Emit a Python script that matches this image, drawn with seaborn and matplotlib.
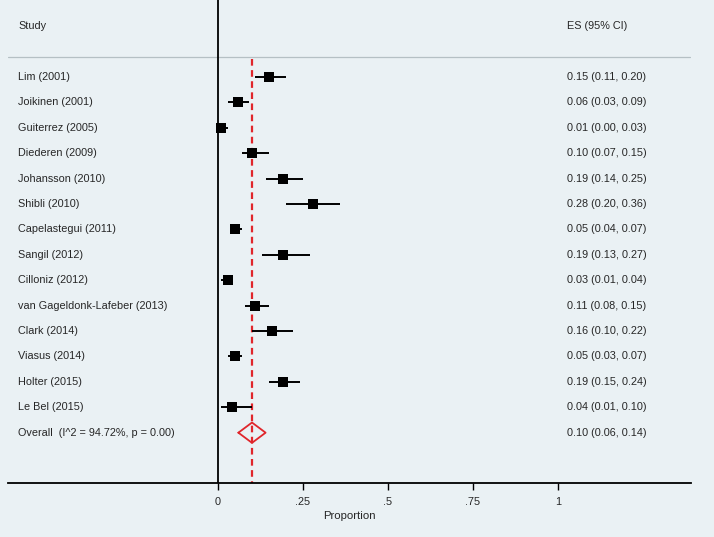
import matplotlib
matplotlib.use("Agg")
import matplotlib.pyplot as plt
import seaborn as sns
import pandas as pd
import numpy as np

studies = ["Lim (2001)", "Joikinen (2001)", "Guiterrez (2005)", "Diederen (2009)",
           "Johansson (2010)", "Shibli (2010)", "Capelastegui (2011)", "Sangil (2012)",
           "Cilloniz (2012)", "van Gageldonk-Lafeber (2013)", "Clark (2014)",
           "Viasus (2014)", "Holter (2015)", "Le Bel (2015)"]
es = [0.15, 0.06, 0.01, 0.10, 0.19, 0.28, 0.05, 0.19, 0.03, 0.11, 0.16, 0.05, 0.19, 0.04]
lo = [0.11, 0.03, 0.00, 0.07, 0.14, 0.20, 0.04, 0.13, 0.01, 0.08, 0.10, 0.03, 0.15, 0.01]
hi = [0.20, 0.09, 0.03, 0.15, 0.25, 0.36, 0.07, 0.27, 0.04, 0.15, 0.22, 0.07, 0.24, 0.10]
overall_label = "Overall  (I^2 = 94.72%, p = 0.00)"
overall_es, overall_lo, overall_hi = 0.10, 0.06, 0.14
xticks = [0, 0.25, 0.5, 0.75, 1]
xticklabels = ["0", ".25", ".5", ".75", "1"]

df = pd.DataFrame({"study": studies, "es": es, "lo": lo, "hi": hi,
                   "row": np.arange(len(studies))})

sns.set_theme(style="white")
plt.rcParams["font.family"] = ["Liberation Sans", "DejaVu Sans"]
bg = "#eaf1f4"

fig = plt.figure(figsize=(7.14, 5.37), dpi=100, facecolor=bg)
ax = fig.add_axes([8 / 714, 54 / 537, 683 / 714, 483 / 537])
ax.set_facecolor(bg)

x0 = 218
scale = 340
ax.set_xlim((8 - x0) / scale, (691 - x0) / scale)
ax.set_ylim(15.98, -3.03)

fs = 7.8
# CI lines
ax.hlines(df["row"], df["lo"], df["hi"], color="black", lw=1.4, zorder=3)
sns.scatterplot(data=df, x="es", y="row", marker="s", s=58, color="black",
                edgecolor="black", linewidth=0, ax=ax, zorder=4, legend=False)

# overall diamond
orow = len(studies)
dh = 0.4
ax.plot([overall_lo, overall_es, overall_hi, overall_es, overall_lo],
        [orow, orow - dh, orow, orow + dh, orow], color="#e0262b", lw=1.3, zorder=4)

# reference lines
ax.axvline(0, color="black", lw=1.3, zorder=2)
ax.plot([overall_es, overall_es], [-0.7, 16], color="#e0262b", lw=1.6,
        ls=(0, (3, 2)), zorder=2)
ax.plot([(8 - x0) / scale, (690 - x0) / scale], [-0.79, -0.79], color="#b5c0c4",
        lw=0.9, zorder=1)

# text
tx_left = (18 - x0) / scale
tx_right = (567 - x0) / scale
ax.text(tx_left, -2.0, "Study", fontsize=fs, va="center", ha="left")
ax.text(tx_right, -2.0, "ES (95% CI)", fontsize=fs, va="center", ha="left")
for r, (s, e, l, h) in enumerate(zip(studies, es, lo, hi)):
    ax.text(tx_left, r, s, fontsize=fs, va="center", ha="left")
    ax.text(tx_right, r, f"{e:.2f} ({l:.2f}, {h:.2f})", fontsize=fs, va="center", ha="left")
ax.text(tx_left, orow, overall_label, fontsize=fs, va="center", ha="left")
ax.text(tx_right, orow, f"{overall_es:.2f} ({overall_lo:.2f}, {overall_hi:.2f})",
        fontsize=fs, va="center", ha="left")

# axes styling
for sp in ["top", "right", "left"]:
    ax.spines[sp].set_visible(False)
ax.spines["bottom"].set_color("black")
ax.spines["bottom"].set_linewidth(1.3)
ax.set_yticks([])
ax.set_xticks(xticks)
ax.set_xticklabels(xticklabels, fontsize=fs)
ax.tick_params(axis="x", direction="out", length=5, width=1, color="black", pad=5,
               bottom=True)
ax.set_xlabel("Proportion", fontsize=fs + 0.4, labelpad=3)
ax.set_ylabel("")

fig.savefig("out.png", dpi=100, facecolor=bg)
